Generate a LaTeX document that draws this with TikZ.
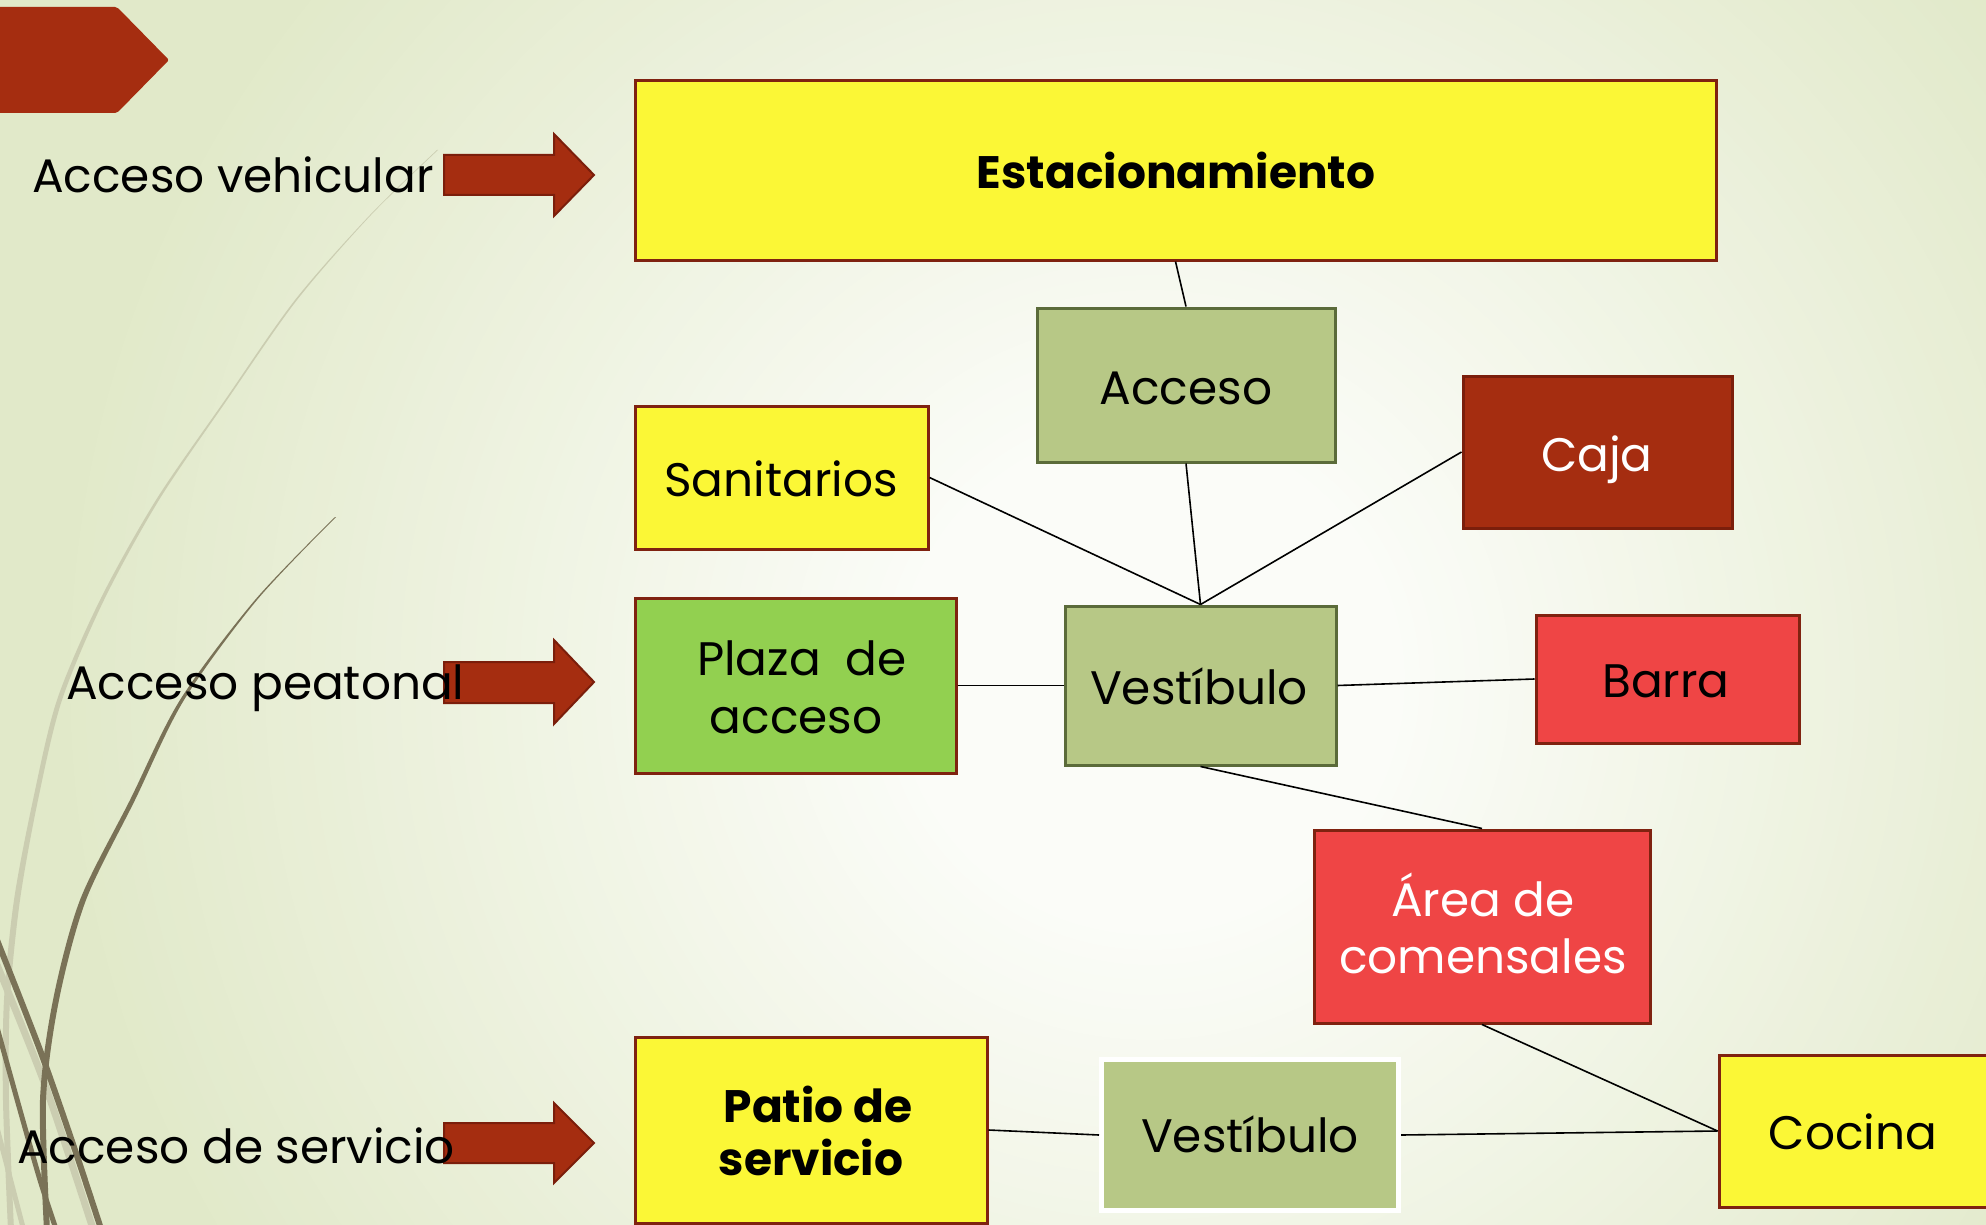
\documentclass[tikz,border=0pt]{standalone}
\usepackage{fontspec}
\setmainfont{Poppins}
\definecolor{bgout}{HTML}{E1E9C9}
\definecolor{bgin}{HTML}{FBFCF8}
\definecolor{yel}{HTML}{FBF736}
\definecolor{redb}{HTML}{7F2210}
\definecolor{olive}{HTML}{B7C886}
\definecolor{olivb}{HTML}{5B6B3A}
\definecolor{rust}{HTML}{A52D10}
\definecolor{rustb}{HTML}{7B1E0B}
\definecolor{coral}{HTML}{EF4545}
\definecolor{lgreen}{HTML}{92D050}
\definecolor{dk}{HTML}{7A7257}
\definecolor{lt}{HTML}{CBCDB1}
\tikzset{
  box/.style={draw=redb, line width=3pt, rectangle, inner sep=0pt},
  gbox/.style={draw=olivb, fill=olive, line width=3pt, rectangle, inner sep=0pt},
  lbl/.style={inner sep=0pt, anchor=base, font=\fontsize{47}{56}\selectfont},
  blbl/.style={inner sep=0pt, anchor=base, font=\fontsize{45.5}{56}\selectfont\bfseries},
  side/.style={inner sep=0pt, anchor=base west, font=\fontsize{47}{56}\selectfont},
  conn/.style={draw=black, line width=1.6pt},
  arr/.style={fill=rust, draw=rustb, line width=2pt},
}
\begin{document}
\begin{tikzpicture}[x=1pt,y=-1pt]
\useasboundingbox (0,0) rectangle (1986,1225);
\begin{scope}
\clip (0,0) rectangle (1986,1225);
\fill[bgout] (0,0) rectangle (1986,1225);
\foreach \r in {1200,1185,...,0}{
  \pgfmathsetmacro\p{max(0,min(100,(\r-250)/8.5))}
  \fill[bgout!\p!bgin] (1150,680) circle[radius=\r pt];
}
% decorative curves
\fill[lt] plot[smooth] coordinates {(437,150) (370,215) (295,300) (225,400) (156,500) (100,600) (57,700) (33,800) (14,900) (4,1000) (3,1100) (8,1230)}
  -- plot[smooth] coordinates {(14,1230) (9,1100) (10,1000) (20,900) (38,800) (62,700) (104,600) (159,500) (227,400) (297,300) (371,215) (438,150)} -- cycle;
\draw[lt, line width=7pt] plot[smooth] coordinates {(-5,960) (45,1085) (95,1235)};
\draw[lt, line width=5pt] plot[smooth] coordinates {(-5,1120) (25,1235)};
\fill[dk] plot[smooth] coordinates {(335,517) (255,600) (180,700) (130,800) (80,900) (53,1000) (40,1100) (44,1230)}
  -- plot[smooth] coordinates {(50,1230) (46,1100) (59,1000) (86,900) (135,800) (184,700) (257,600) (336,517)} -- cycle;
\draw[dk, line width=6pt] plot[smooth] coordinates {(-5,935) (40,1050) (75,1150) (103,1235)};
\draw[dk, line width=5pt] plot[smooth] coordinates {(-5,1020) (20,1110) (40,1180) (58,1235)};
% top-left tab
\fill[rust, rounded corners=2pt] (-5,7) -- (117,7) -- (169,60) -- (117,113) -- (-5,113) -- cycle;
\end{scope}

% boxes
\node[box, fill=yel, minimum width=1081pt, minimum height=179pt] (est) at (1175.5,170.5) {};
\node[gbox, minimum width=298pt, minimum height=154pt] (acc) at (1186,385) {};
\node[box, fill=yel, minimum width=293pt, minimum height=143pt] (san) at (781.5,477.5) {};
\node[box, fill=rust, draw=rustb, minimum width=269pt, minimum height=152pt] (caja) at (1597.5,452) {};
\node[box, fill=lgreen, minimum width=321pt, minimum height=175pt] (plaza) at (795.5,685.5) {};
\node[gbox, minimum width=271pt, minimum height=159pt] (vest) at (1200.5,685.5) {};
\node[box, fill=coral, minimum width=263pt, minimum height=128pt] (barra) at (1667.5,679) {};
\node[box, fill=coral, minimum width=336pt, minimum height=193pt] (area) at (1482,926.5) {};
\node[box, fill=yel, minimum width=352pt, minimum height=186pt] (patio) at (811,1130) {};
\node[gbox, draw=white, line width=5pt, minimum width=297pt, minimum height=151pt] (vestb) at (1250,1135) {};
\node[box, fill=yel, minimum width=273pt, minimum height=152pt] (coc) at (1855.5,1131) {};

% connectors
\draw[conn] (est.south) -- (acc.north);
\draw[conn] (acc.south) -- (vest.north);
\draw[conn] (san.east) -- (vest.north);
\draw[conn] (caja.west) -- (vest.north);
\draw[conn] (plaza.east) -- (vest.west);
\draw[conn] (vest.east) -- (barra.west);
\draw[conn] (vest.south) -- (area.north);
\draw[conn] (area.south) -- (coc.west);
\draw[conn] (patio.east) -- (vestb.west);
\draw[conn] (vestb.east) -- (coc.west);

% texts in boxes
\node[blbl] (estT) at (1176,189) {Estacionamiento};
\node[lbl] (accT) at (1186,404) {Acceso};
\node[lbl] (sanT) at (781,496) {Sanitarios};
\node[lbl, text=white] (cajaT) at (1597,471) {Caja};
\node[lbl] (plazaT1) at (802,675) {Plaza\ \ de};
\node[lbl] (plazaT2) at (796,733) {acceso};
\node[lbl] (vestT) at (1199,704) {Vestíbulo};
\node[lbl] (barraT) at (1666,697) {Barra};
\node[lbl, text=white] (areaT1) at (1483,916) {Área de};
\node[lbl, text=white] (areaT2) at (1483,973) {comensales};
\node[blbl] (patioT1) at (818,1122) {Patio de};
\node[blbl] (patioT2) at (811,1175) {servicio};
\node[lbl] (vestbT) at (1250,1152) {Vestíbulo};
\node[lbl] (cocT) at (1853,1149) {Cocina};

% entry arrows
\filldraw[arr] (444,155) -- (554,155) -- (554,134) -- (594,175) -- (554,216) -- (554,195) -- (444,195) -- cycle;
\filldraw[arr] (444,662) -- (554,662) -- (554,640) -- (594,682) -- (554,724) -- (554,703) -- (444,703) -- cycle;
\filldraw[arr] (444,1123) -- (554,1123) -- (554,1103) -- (594,1143) -- (554,1183) -- (554,1163) -- (444,1163) -- cycle;

% side labels
\node[side] (lv) at (32,193) {Acceso vehicular};
\node[side] (lp) at (66,699) {Acceso peatonal};
\node[side] (ls) at (17,1163) {Acceso de servicio};
\end{tikzpicture}
\end{document}
